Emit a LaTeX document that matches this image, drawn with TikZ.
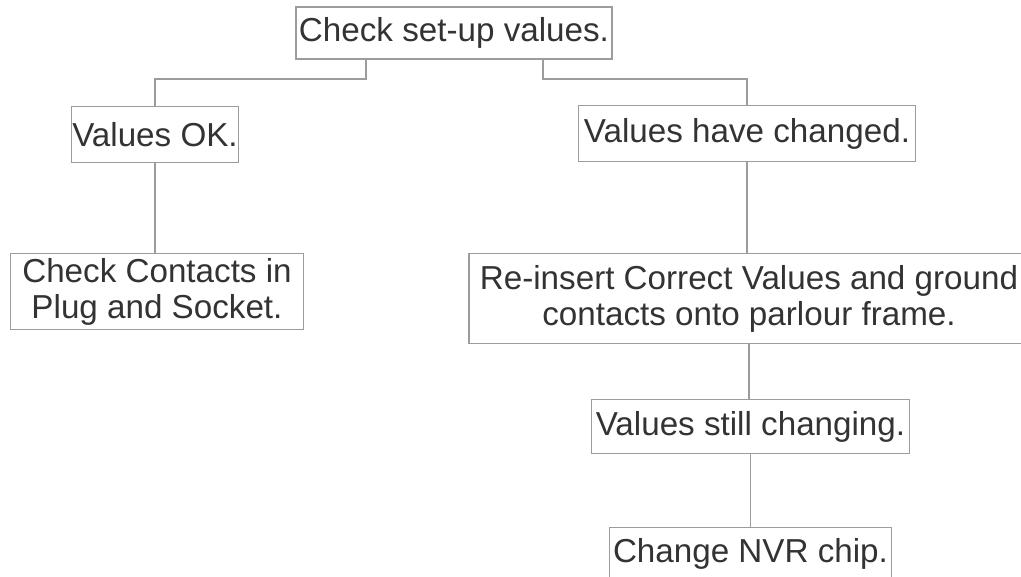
\documentclass[tikz,border=0pt]{standalone}
\usepackage{fontspec}
\setmainfont{Liberation Sans}
\usetikzlibrary{positioning}

\definecolor{inkgray}{HTML}{333333}
\definecolor{rulegray}{HTML}{9C9C9C}

\tikzset{
  cell/.style = {draw=rulegray, line width=0.8pt, fill=white, text=inkgray,
                 align=center, inner sep=0pt,
                 font=\fontsize{24.9}{27}\selectfont},
  link/.style = {draw=rulegray, line width=0.8pt}
}

\begin{document}
\begin{tikzpicture}[x=0.75pt, y=-0.75pt]

  % page frame
  \fill[white] (0,0) rectangle (1021,576);
  \useasboundingbox (0,0) rectangle (1021,576);

  %%%%%%%%%%%Top question%%%%%%%%%%%
  \node[cell, minimum width=237pt, minimum height=39pt] (setup) at (454,33)
    {Check set-up values.};

  %%%%%%%%%%%Left branch%%%%%%%%%%%%%
  \node[cell, minimum width=125pt, minimum height=42pt] (ok) at (155,134.5)
    {Values OK.};
  \node[cell, minimum width=220pt, minimum height=57pt] (contacts) at (157,291.5)
    {Check Contacts in\\Plug and Socket.};

  %%%%%%%%%%%Right branch%%%%%%%%%%%%
  \node[cell, minimum width=253pt, minimum height=42pt] (changed) at (747,133.5)
    {Values have changed.};
  \node[cell, minimum width=420pt, minimum height=68pt] (reinsert) at (749,298.5)
    {Re-insert Correct Values and ground\\contacts onto parlour frame.};
  \node[cell, minimum width=238pt, minimum height=40pt] (still) at (750.5,426.5)
    {Values still changing.};
  \node[cell, minimum width=212pt, minimum height=40pt] (nvr) at (750.5,554)
    {Change NVR chip.};

  %%%%%%%%%%%Connectors%%%%%%%%%%%%%%
  \coordinate (jl) at (366,79);
  \coordinate (jr) at (543,79);
  \draw[link] (setup.south -| jl) -- (jl) -| (ok.north);
  \draw[link] (setup.south -| jr) -- (jr) -| (changed.north);
  \draw[link] (ok.south) -- (ok.south |- contacts.north);
  \draw[link] (changed.south) -- (changed.south |- reinsert.north);
  \draw[link] (reinsert.south) -- (reinsert.south |- still.north);
  \draw[link] (still.south) -- (still.south |- nvr.north);
\end{tikzpicture}
\end{document}
